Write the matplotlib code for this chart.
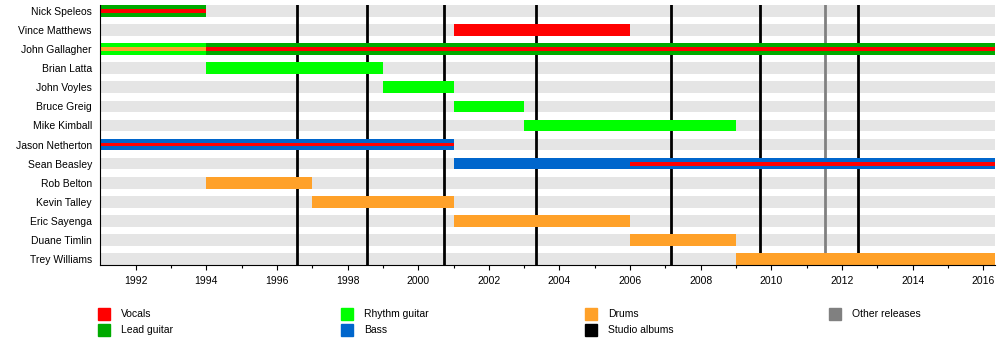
import matplotlib
matplotlib.use("Agg")
import matplotlib.pyplot as plt
from matplotlib.patches import Rectangle

plt.rcParams['font.family'] = ['Liberation Sans', 'DejaVu Sans']

# Band members, top to bottom
members = ["Nick Speleos", "Vince Matthews", "John Gallagher", "Brian Latta",
           "John Voyles", "Bruce Greig", "Mike Kimball", "Jason Netherton",
           "Sean Beasley", "Rob Belton", "Kevin Talley", "Eric Sayenga",
           "Duane Timlin", "Trey Williams"]

START = 1991.0
END = 2016.33

# Main role bars
bar_member = ["Nick Speleos", "Vince Matthews", "John Gallagher", "John Gallagher",
              "Brian Latta", "John Voyles", "Bruce Greig", "Mike Kimball",
              "Jason Netherton", "Sean Beasley", "Rob Belton", "Kevin Talley",
              "Eric Sayenga", "Duane Timlin", "Trey Williams"]
bar_role = ["Lead guitar", "Vocals", "Rhythm guitar", "Lead guitar",
            "Rhythm guitar", "Rhythm guitar", "Rhythm guitar", "Rhythm guitar",
            "Bass", "Bass", "Drums", "Drums", "Drums", "Drums", "Drums"]
bar_start = [1991.0, 2001.0, 1991.0, 1994.0, 1994.0, 1999.0, 2001.0, 2003.0,
             1991.0, 2001.0, 1994.0, 1997.0, 2001.0, 2006.0, 2009.0]
bar_end = [1994.0, 2006.0, 1994.0, END, 1999.0, 2001.0, 2003.0, 2009.0,
           2001.0, END, 1997.0, 2001.0, 2006.0, 2009.0, END]

# Secondary roles drawn as thin stripes inside the main bars
stripe_member = ["Nick Speleos", "John Gallagher", "John Gallagher",
                 "Jason Netherton", "Sean Beasley"]
stripe_role = ["Vocals", "Drums", "Vocals", "Vocals", "Vocals"]
stripe_start = [1991.0, 1991.0, 1994.0, 1991.0, 2006.0]
stripe_end = [1994.0, 1994.0, END, 2001.0, END]

# Release dates
studio_albums = [1996.57, 1998.55, 2000.74, 2003.34, 2007.16, 2009.68, 2012.45]
other_releases = [2011.52]

roles = ["Vocals", "Lead guitar", "Rhythm guitar", "Bass", "Drums",
         "Studio albums", "Other releases"]
role_colors = {
    "Vocals": "#FF0000",
    "Lead guitar": "#00AA00",
    "Rhythm guitar": "#00FF00",
    "Bass": "#0066CC",
    "Drums": "#FFA129",
    "Studio albums": "#000000",
    "Other releases": "#808080",
}

fig = plt.figure(figsize=(10, 3.4), dpi=100)
ax = fig.add_axes([0.1003, 1 - 265 / 340, 0.8947, 260 / 340])

h = 0.61
row = {m: i for i, m in enumerate(members)}

# background bands
for i in range(len(members)):
    ax.barh(i, END - START, left=START, height=h, color="#E5E5E5", zorder=1)

# release lines
for x in studio_albums:
    ax.axvline(x, color=role_colors["Studio albums"], lw=2.0, zorder=2)
for x in other_releases:
    ax.axvline(x, color=role_colors["Other releases"], lw=2.0, zorder=2)

# role bars
for m, r, s, e in zip(bar_member, bar_role, bar_start, bar_end):
    ax.barh(row[m], e - s, left=s, height=h, color=role_colors[r], zorder=3)
for m, r, s, e in zip(stripe_member, stripe_role, stripe_start, stripe_end):
    ax.barh(row[m], e - s, left=s, height=h / 3, color=role_colors[r], zorder=4)

ax.set_xlim(START, END)
ax.set_ylim(len(members) - 1 + h / 2, -h / 2)
ax.set_yticks(range(len(members)))
ax.set_yticklabels(members, fontsize=7.5)
ax.tick_params(axis="y", length=0, pad=6)

major = list(range(1992, 2017, 2))
ax.set_xticks(major)
ax.set_xticklabels([str(y) for y in major], fontsize=7.5)
ax.set_xticks(list(range(1992, 2017)), minor=True)
ax.tick_params(axis="x", which="major", length=3.5, width=0.8, pad=4.5)
ax.tick_params(axis="x", which="minor", length=2.2, width=0.8)

for side in ("top", "right"):
    ax.spines[side].set_visible(False)
for side in ("left", "bottom"):
    ax.spines[side].set_linewidth(0.8)
    ax.spines[side].set_zorder(5)

# legend laid out in four columns
legend_cols = [98, 341, 585, 829]
legend_rows = [314, 330]
positions = [(0, 0), (0, 1), (1, 0), (1, 1), (2, 0), (2, 1), (3, 0)]
for r, (c, k) in zip(roles, positions):
    x = legend_cols[c]
    yc = legend_rows[k]
    fig.patches.append(Rectangle((x / 1000, 1 - (yc + 6) / 340), 12 / 1000, 12 / 340,
                                 transform=fig.transFigure, color=role_colors[r]))
    fig.text((x + 23) / 1000, 1 - yc / 340, r, fontsize=7.5, va="center", ha="left")

fig.savefig("out.png", dpi=100)
